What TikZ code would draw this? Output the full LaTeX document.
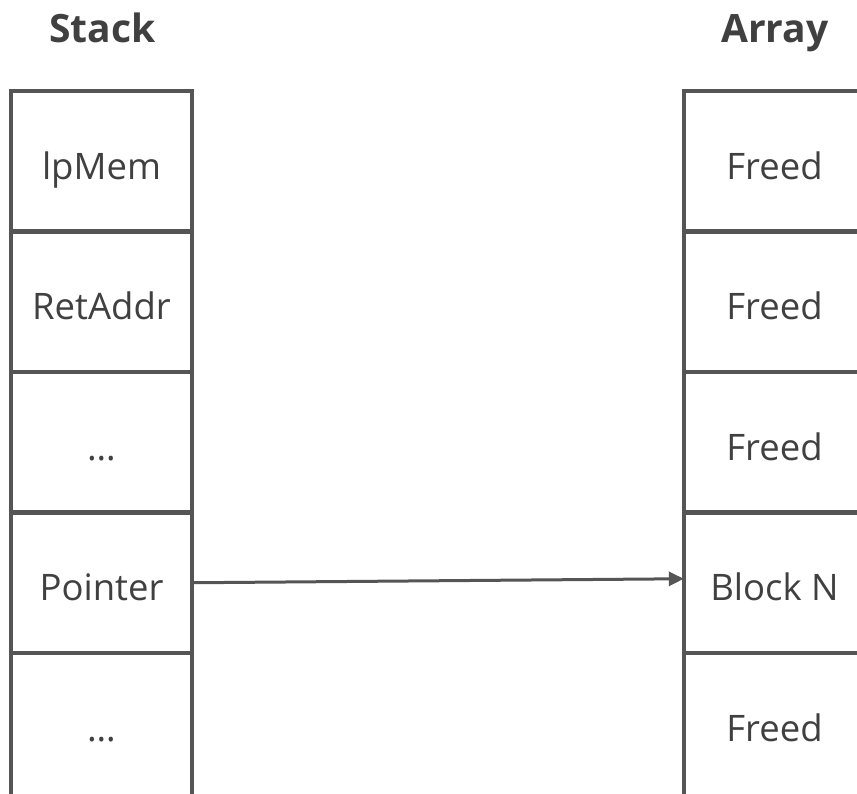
\documentclass[tikz,border=0pt]{standalone}
\usepackage{fontspec}
\setmainfont{Open Sans}
\usetikzlibrary{arrows.meta}
\definecolor{frame}{HTML}{555555}
\definecolor{txt}{HTML}{404040}
\tikzset{
  cell/.style={draw=none, minimum width=181pt, minimum height=140.5pt, inner sep=0pt,
    text height=36pt, text depth=0pt,
    text=txt, font=\fontsize{36.5}{44}\selectfont},
  title/.style={text=txt, font=\fontsize{39}{46}\selectfont\bfseries, inner sep=0pt, anchor=base},
  wall/.style={draw=frame, line width=4.5pt},
  ptr/.style={draw=frame, line width=3pt, -{Triangle[length=15pt,width=14pt]}}
}
\begin{document}
\begin{tikzpicture}[x=1pt,y=-1pt]
\useasboundingbox (0,0) rectangle (857,793);
\clip (0,0) rectangle (857,793);
\fill[white] (0,0) rectangle (857,793);
\node[title] (st) at (102.5,42) {Stack};
\node[title] (ar) at (775,42) {Array};
% stack cells
\node[cell] (s1) at (101.5,161.25) {lpMem};
\node[cell] (s2) at (101.5,301.75) {RetAddr};
\node[cell] (s3) at (101.5,442.25) {…};
\node[cell] (s4) at (101.5,582.75) {Pointer};
\node[cell] (s5) at (101.5,723.25) {…};
% array cells
\node[cell] (a1) at (774.5,161.25) {Freed};
\node[cell] (a2) at (774.5,301.75) {Freed};
\node[cell] (a3) at (774.5,442.25) {Freed};
\node[cell] (a4) at (774.5,582.75) {Block N};
\node[cell] (a5) at (774.5,723.25) {Freed};
% stack frame
\draw[wall, line join=miter] (s5.south west) -- (s1.north west) -- (s1.north east) -- (s5.south east);
\foreach \i in {1,2,3,4}{\draw[wall] (s\i.south west) -- (s\i.south east);}
% array frame
\draw[wall, line join=miter] (a5.south west) -- (a1.north west) -- (a1.north east) -- (a5.south east);
\foreach \i in {1,2,3,4}{\draw[wall] (a\i.south west) -- (a\i.south east);}
% pointer
\draw[ptr] (s4.east) -- ([yshift=4pt]a4.west);
\end{tikzpicture}
\end{document}
